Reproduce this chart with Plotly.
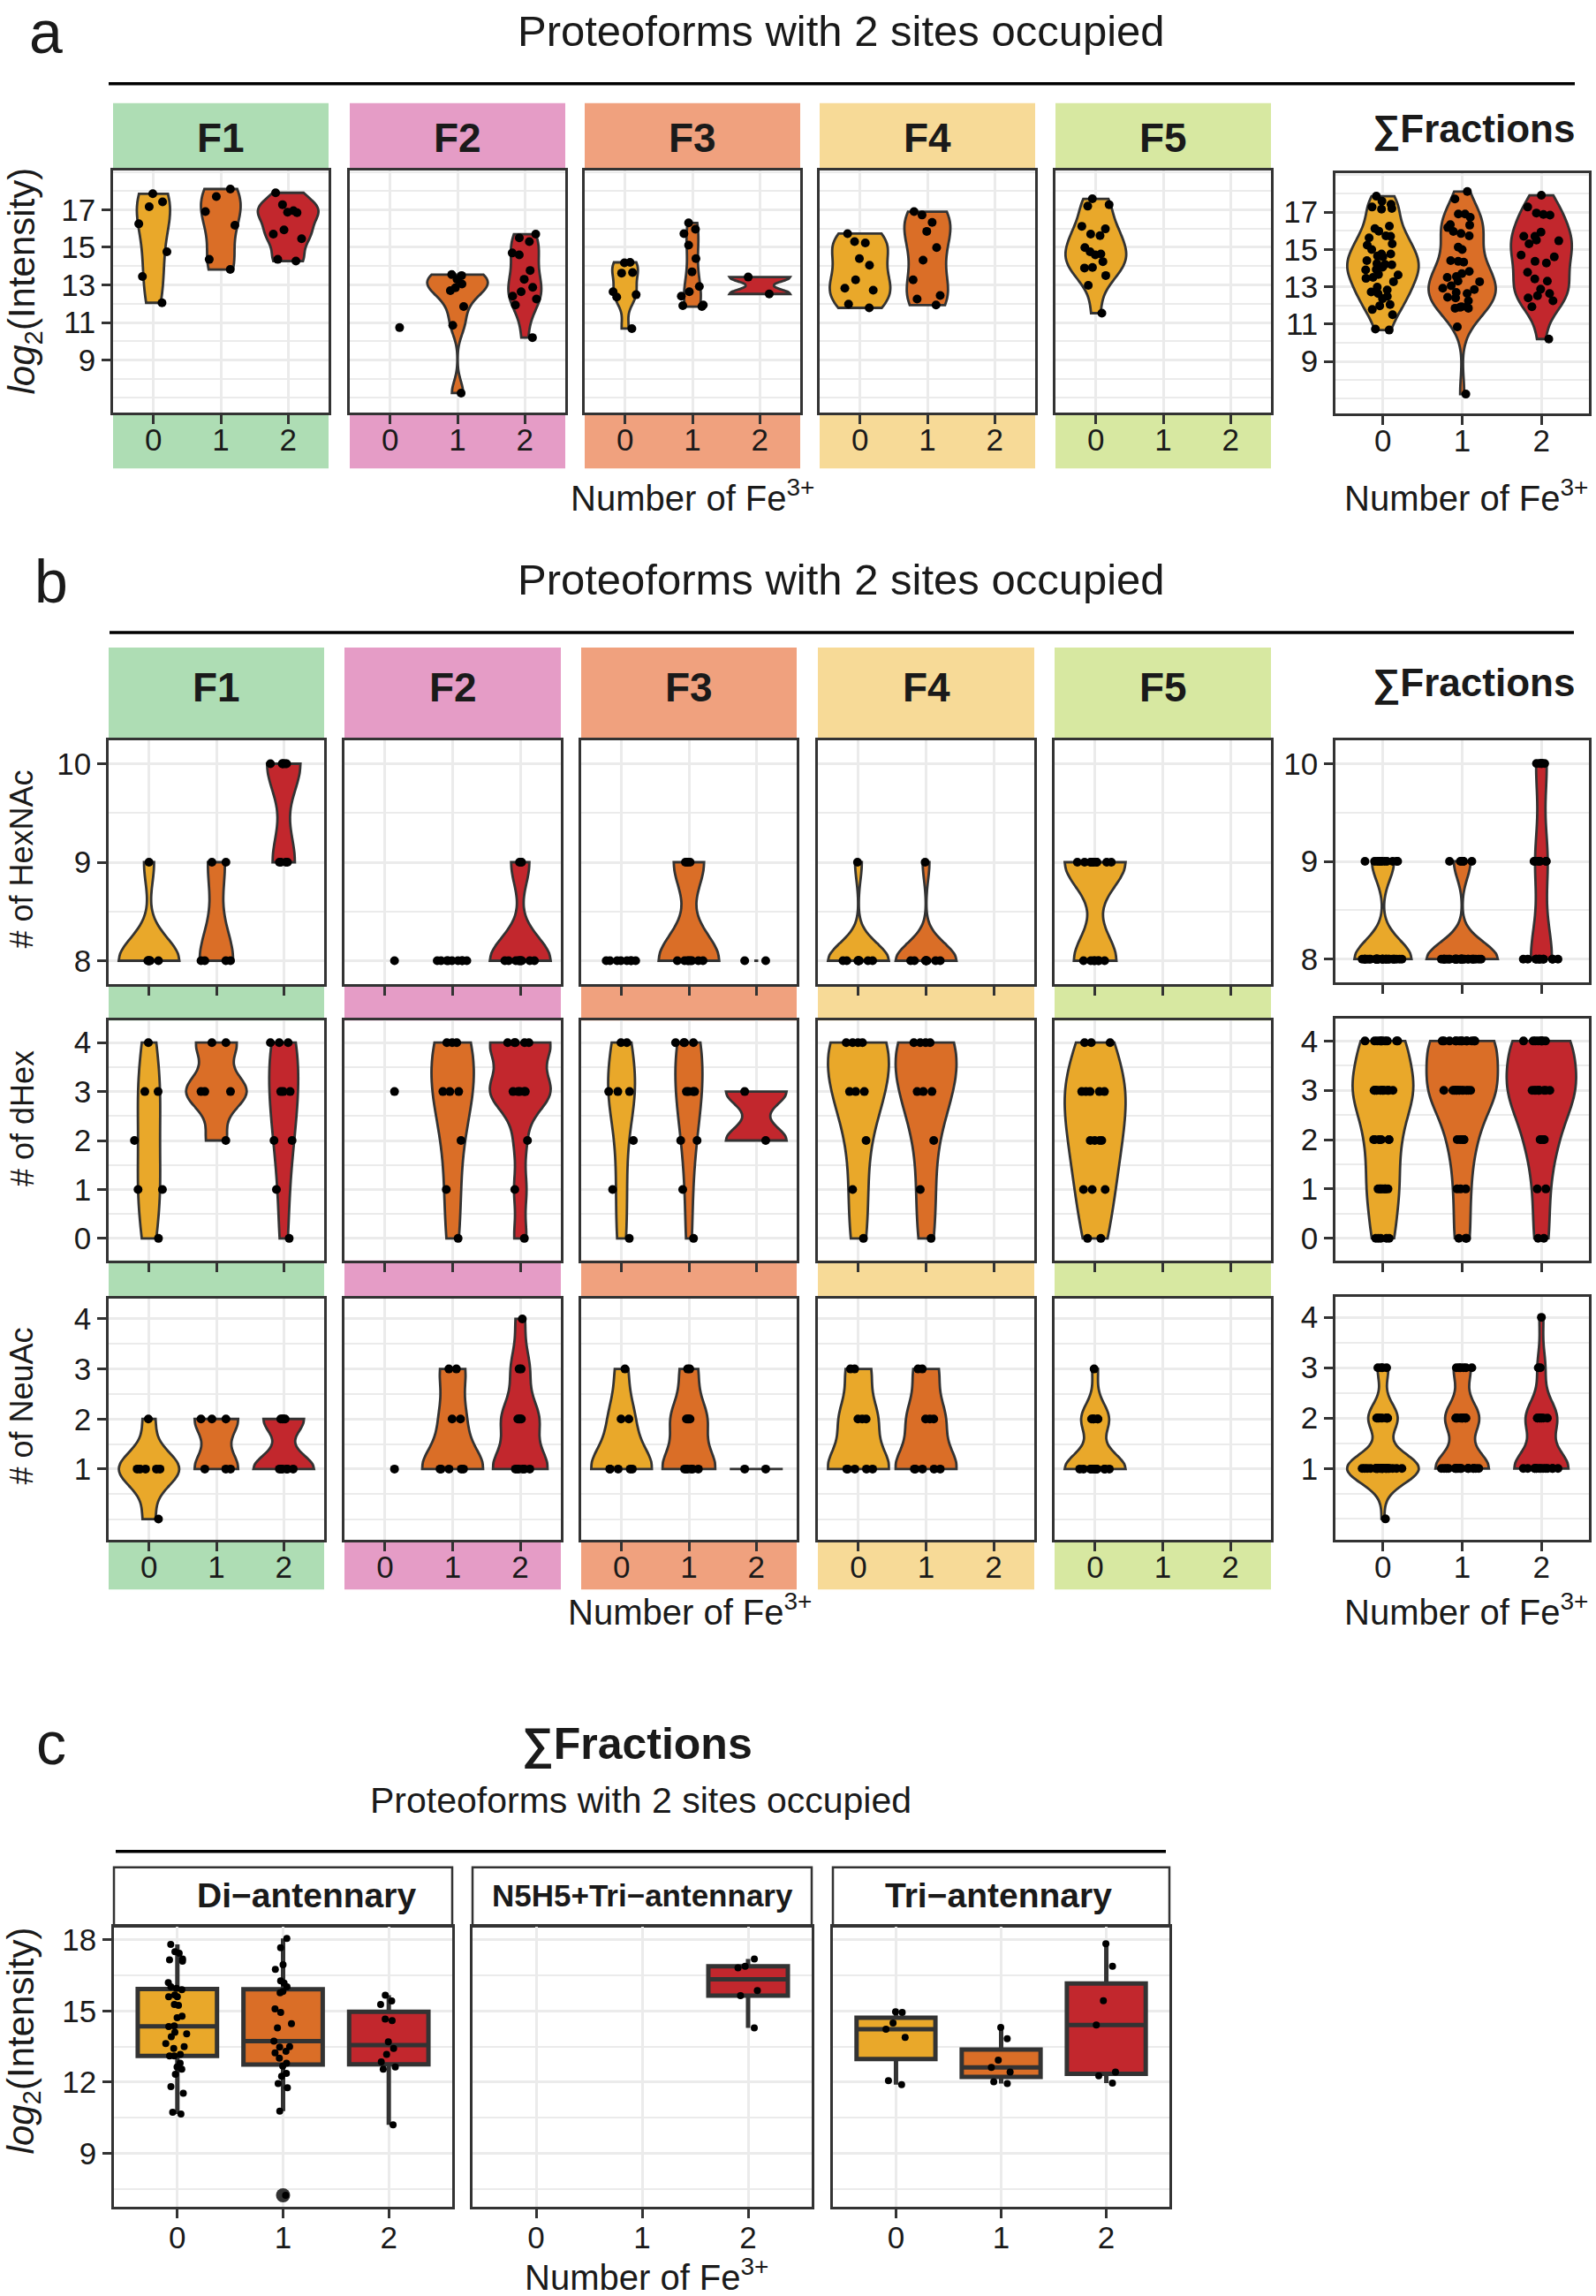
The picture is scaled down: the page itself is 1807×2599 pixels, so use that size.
import numpy as np
import plotly.graph_objects as go

W, H = 1807, 2599
FONT = "Liberation Sans, Arial, sans-serif"
INK = "#333333"
GRID = "#EBEBEB"
TXT = "#1A1A1A"

# ---------------- categories / labels ----------------
FE_LEVELS = [0, 1, 2]
FE_TICKTEXT = ["0", "1", "2"]
FRACTIONS = ["F1", "F2", "F3", "F4", "F5"]
STRIP_COLORS = ["#AEDDB4", "#E59CC6", "#F0A17E", "#F7DA97", "#D7E8A1"]
FE_COLORS = ["#E9A82A", "#DA6E27", "#C2272D"]
ANTENNARY = ["Di\u2212antennary", "N5H5+Tri\u2212antennary", "Tri\u2212antennary"]

INT_TICKS = [9, 11, 13, 15, 17]
INT_MINOR = [7, 8, 10, 12, 14, 16, 18, 19]
HEX_TICKS = [8, 9, 10]
HEX_MINOR = [8.5, 9.5]
DHEX_TICKS = [0, 1, 2, 3, 4]
DHEX_MINOR = [0.5, 1.5, 2.5, 3.5]
NEU_TICKS = [1, 2, 3, 4]
NEU_MINOR = [0, 0.5, 1.5, 2.5, 3.5]
C_TICKS = [9, 12, 15, 18]
C_MINOR = [7.5, 10.5, 13.5, 16.5]

# ---------------- panel a : log2(Intensity) ----------------
INT_F1_FE0 = [17.85, 17.42, 17.16, 16.25, 14.76, 13.45, 12.05]
INT_F1_FE1 = [18.10, 17.70, 16.90, 16.17, 14.36, 13.82]
INT_F1_FE2 = [17.90, 17.27, 16.95, 16.87, 16.84, 15.93, 15.70, 15.46, 14.36, 14.27]
INT_F2_FE0 = [10.73]
INT_F2_FE1 = [13.55, 13.50, 13.30, 13.05, 12.85, 12.70, 11.85, 10.85, 7.25]
INT_F2_FE2 = [15.70, 15.50, 15.30, 14.70, 14.60, 13.77, 13.30, 12.87, 12.64, 12.40, 12.25, 11.93, 10.20]
INT_F3_FE0 = [14.20, 14.18, 13.66, 13.63, 12.64, 12.48, 12.36, 10.68]
INT_F3_FE1 = [16.30, 15.96, 15.73, 15.12, 14.40, 13.70, 12.92, 12.64, 12.40, 11.93, 11.90, 11.85]
INT_F3_FE2 = [13.42, 12.52]
INT_F4_FE0 = [15.73, 15.30, 15.23, 14.40, 14.05, 13.27, 12.83, 12.72, 11.98, 11.78]
INT_F4_FE1 = [16.90, 16.72, 16.33, 15.85, 14.99, 14.32, 13.27, 12.44, 12.25, 11.93]
INT_F5_FE0 = [17.58, 17.27, 17.19, 16.12, 15.98, 15.70, 15.62, 14.99, 14.76, 14.65, 14.60,
              14.24, 13.93, 13.90, 13.50, 12.98, 11.50]

# ---------------- panel b : # of HexNAc ----------------
HEX_F1_FE0 = [9, 8, 8, 8, 8, 8, 8]
HEX_F1_FE1 = [9, 9, 8, 8, 8, 8]
HEX_F1_FE2 = [10, 10, 10, 10, 10, 10, 9, 9, 9, 9]
HEX_F2_FE0 = [8]
HEX_F2_FE1 = [8, 8, 8, 8, 8, 8, 8, 8, 8]
HEX_F2_FE2 = [9, 9, 9, 8, 8, 8, 8, 8, 8, 8, 8, 8, 8]
HEX_F3_FE0 = [8, 8, 8, 8, 8, 8, 8, 8]
HEX_F3_FE1 = [9, 9, 9, 9, 8, 8, 8, 8, 8, 8, 8, 8]
HEX_F3_FE2 = [8, 8]
HEX_F4_FE0 = [9, 8, 8, 8, 8, 8, 8, 8, 8, 8]
HEX_F4_FE1 = [9, 8, 8, 8, 8, 8, 8, 8, 8, 8]
HEX_F5_FE0 = [9, 9, 9, 9, 9, 9, 9, 9, 9, 9, 8, 8, 8, 8, 8, 8, 8]

# ---------------- panel b : # of dHex ----------------
DHEX_F1_FE0 = [4, 3, 3, 2, 1, 1, 0]
DHEX_F1_FE1 = [4, 4, 3, 3, 3, 2]
DHEX_F1_FE2 = [4, 4, 4, 3, 3, 3, 2, 2, 1, 0]
DHEX_F2_FE0 = [3]
DHEX_F2_FE1 = [4, 4, 4, 3, 3, 3, 2, 1, 0]
DHEX_F2_FE2 = [4, 4, 4, 4, 4, 3, 3, 3, 3, 3, 2, 1, 0]
DHEX_F3_FE0 = [4, 4, 3, 3, 3, 2, 1, 0]
DHEX_F3_FE1 = [4, 4, 4, 4, 3, 3, 3, 3, 2, 2, 1, 0]
DHEX_F3_FE2 = [3, 2]
DHEX_F4_FE0 = [4, 4, 4, 4, 3, 3, 3, 2, 1, 0]
DHEX_F4_FE1 = [4, 4, 4, 4, 3, 3, 3, 2, 1, 0]
DHEX_F5_FE0 = [4, 4, 4, 3, 3, 3, 3, 3, 2, 2, 2, 2, 1, 1, 1, 0, 0]

# ---------------- panel b : # of NeuAc ----------------
NEU_F1_FE0 = [2, 1, 1, 1, 1, 1, 0]
NEU_F1_FE1 = [2, 2, 2, 1, 1, 1]
NEU_F1_FE2 = [2, 2, 2, 2, 1, 1, 1, 1, 1, 1]
NEU_F2_FE0 = [1]
NEU_F2_FE1 = [3, 3, 2, 2, 1, 1, 1, 1, 1]
NEU_F2_FE2 = [4, 3, 3, 2, 2, 2, 2, 1, 1, 1, 1, 1, 1]
NEU_F3_FE0 = [3, 2, 2, 1, 1, 1, 1, 1]
NEU_F3_FE1 = [3, 3, 2, 2, 2, 2, 1, 1, 1, 1, 1, 1]
NEU_F3_FE2 = [1, 1]
NEU_F4_FE0 = [3, 3, 2, 2, 2, 1, 1, 1, 1, 1]
NEU_F4_FE1 = [3, 3, 2, 2, 2, 1, 1, 1, 1, 1]
NEU_F5_FE0 = [3, 2, 2, 2, 2, 2, 1, 1, 1, 1, 1, 1, 1, 1, 1, 1, 1]

# ---------------- panel c : log2(Intensity) by antennarity ----------------
C_DI_FE0 = [17.81, 17.50, 17.44, 17.20, 17.16, 17.10, 16.20, 16.02, 15.96, 15.90, 15.68, 15.60,
            15.60, 15.28, 15.24, 14.78, 14.72, 14.37, 14.35, 14.10, 14.04, 13.92, 13.63, 13.50,
            13.42, 13.17, 13.11, 13.11, 12.80, 12.64, 12.55, 12.33, 11.81, 11.53, 10.73, 10.66]
C_DI_FE1 = [18.06, 17.67, 16.95, 16.76, 16.27, 16.18, 16.02, 15.83, 15.77, 15.09, 14.94, 14.47,
            14.29, 13.73, 13.50, 13.48, 13.30, 13.24, 13.01, 12.80, 12.68, 12.37, 12.25, 11.94,
            11.77, 10.78, 7.23]
C_DI_FE2 = [15.67, 15.43, 15.28, 14.66, 14.60, 13.70, 13.42, 13.17, 12.86, 12.64, 12.55, 10.20]
C_N5_FE2 = [17.20, 16.89, 16.82, 15.86, 15.65, 14.29]
C_TRI_FE0 = [14.97, 14.94, 14.50, 14.23, 13.89, 12.06, 11.90]
C_TRI_FE1 = [14.31, 13.83, 12.93, 12.62, 12.43, 12.02, 11.94]
C_TRI_FE2 = [17.84, 16.89, 15.44, 14.41, 12.43, 12.27, 11.96]

INT = {"F1": [INT_F1_FE0, INT_F1_FE1, INT_F1_FE2], "F2": [INT_F2_FE0, INT_F2_FE1, INT_F2_FE2],
       "F3": [INT_F3_FE0, INT_F3_FE1, INT_F3_FE2], "F4": [INT_F4_FE0, INT_F4_FE1, []],
       "F5": [INT_F5_FE0, [], []]}
HEX = {"F1": [HEX_F1_FE0, HEX_F1_FE1, HEX_F1_FE2], "F2": [HEX_F2_FE0, HEX_F2_FE1, HEX_F2_FE2],
       "F3": [HEX_F3_FE0, HEX_F3_FE1, HEX_F3_FE2], "F4": [HEX_F4_FE0, HEX_F4_FE1, []],
       "F5": [HEX_F5_FE0, [], []]}
DHEX = {"F1": [DHEX_F1_FE0, DHEX_F1_FE1, DHEX_F1_FE2], "F2": [DHEX_F2_FE0, DHEX_F2_FE1, DHEX_F2_FE2],
        "F3": [DHEX_F3_FE0, DHEX_F3_FE1, DHEX_F3_FE2], "F4": [DHEX_F4_FE0, DHEX_F4_FE1, []],
        "F5": [DHEX_F5_FE0, [], []]}
NEU = {"F1": [NEU_F1_FE0, NEU_F1_FE1, NEU_F1_FE2], "F2": [NEU_F2_FE0, NEU_F2_FE1, NEU_F2_FE2],
       "F3": [NEU_F3_FE0, NEU_F3_FE1, NEU_F3_FE2], "F4": [NEU_F4_FE0, NEU_F4_FE1, []],
       "F5": [NEU_F5_FE0, [], []]}
ANT = [[C_DI_FE0, C_DI_FE1, C_DI_FE2], [[], [], C_N5_FE2], [C_TRI_FE0, C_TRI_FE1, C_TRI_FE2]]


def pooled(d):
    return [sum((list(d[f][k]) for f in FRACTIONS), []) for k in range(3)]


# ---------------- helpers ----------------
def nrd0(v):
    v = np.asarray(v, float)
    hi = np.std(v, ddof=1)
    q75, q25 = np.percentile(v, [75, 25])
    lo = min(hi, (q75 - q25) / 1.34)
    if lo == 0:
        lo = hi if hi > 0 else (abs(v[0]) if v[0] != 0 else 1.0)
    return 0.9 * lo * len(v) ** -0.2


def kde_max(v, bw):
    v = np.asarray(v, float)
    t = np.linspace(v.min(), v.max(), 512)
    d = np.exp(-0.5 * ((t[:, None] - v[None, :]) / bw) ** 2).sum(1) / (len(v) * bw * np.sqrt(2 * np.pi))
    return d.max()


def px_x(p):
    return p / W


def px_y(p):
    return 1 - p / H


TICK_SIZE = 35
layout = dict(width=W, height=H, margin=dict(l=0, r=0, t=0, b=0), paper_bgcolor="white",
              plot_bgcolor="white", showlegend=False, violinmode="overlay", violingap=0.1,
              violingroupgap=0, boxmode="overlay", boxgap=0.25, boxgroupgap=0,
              font=dict(family=FONT, color=TXT), shapes=[], annotations=[])
traces = []
_count = [0]
X_STANDOFF = {}


def new_panel(xs, ys, yrange, ymajor, yminor, ylabels, xlabels, standoff=-12):
    _count[0] += 1
    k = _count[0]
    s = "" if k == 1 else str(k)
    X_STANDOFF["xaxis" + s] = standoff
    layout["xaxis" + s] = dict(
        domain=[px_x(xs[0]), px_x(xs[1])], anchor="y" + s, range=[-0.6, 2.6], tickmode="array",
        tickvals=FE_LEVELS, ticktext=FE_TICKTEXT, showticklabels=xlabels, ticks="outside",
        ticklen=10, tickwidth=2.5, tickcolor=INK, showgrid=True, gridcolor=GRID, gridwidth=3,
        showline=True, linecolor=INK, linewidth=2.5, mirror=True, zeroline=False,
        tickfont=dict(family=FONT, size=TICK_SIZE, color=TXT))
    layout["yaxis" + s] = dict(
        domain=[px_y(ys[1]), px_y(ys[0])], anchor="x" + s, range=yrange, tickmode="array",
        tickvals=ymajor, showticklabels=ylabels, ticks="outside" if ylabels else "",
        ticklen=10, tickwidth=2.5, tickcolor=INK, showgrid=True, gridcolor=GRID, gridwidth=3,
        showline=True, linecolor=INK, linewidth=2.5, mirror=True, zeroline=False,
        tickfont=dict(family=FONT, size=TICK_SIZE, color=TXT),
        minor=dict(tickmode="array", tickvals=yminor, showgrid=True, gridcolor=GRID,
                   gridwidth=1.5, ticks=""))
    return "x" + s, "y" + s


def ann(x, y, text, size, bold=False, angle=0, color=TXT):
    t = "<b>%s</b>" % text if bold else text
    layout["annotations"].append(dict(x=px_x(x), y=px_y(y), xref="paper", yref="paper", text=t,
                                      showarrow=False, font=dict(family=FONT, size=size, color=color),
                                      xanchor="center", yanchor="middle", textangle=angle))


def rect(xs, ys, fill, line_color=None, lw=0):
    layout["shapes"].append(dict(type="rect", xref="paper", yref="paper", x0=px_x(xs[0]),
                                 x1=px_x(xs[1]), y0=px_y(ys[1]), y1=px_y(ys[0]), fillcolor=fill,
                                 line=dict(color=line_color or fill, width=lw), layer="below"))


def hline(xs, y, lw=3.5):
    layout["shapes"].append(dict(type="line", xref="paper", yref="paper", x0=px_x(xs[0]),
                                 x1=px_x(xs[1]), y0=px_y(y), y1=px_y(y),
                                 line=dict(color="black", width=lw)))


def add_violins(groups, xa, ya, key, msize=10):
    nonconst = [g for g in groups if len(g) >= 2 and max(g) > min(g)]
    pmax = max(kde_max(g, nrd0(g)) for g in nonconst) if nonconst else 1.0
    for fe, vals in zip(FE_LEVELS, groups):
        if not vals:
            continue
        n = len(vals)
        base = dict(x=[fe] * n, y=vals, xaxis=xa, yaxis=ya, fillcolor=FE_COLORS[fe],
                    spanmode="hard", side="both", showlegend=False, hoverinfo="y",
                    box_visible=False, meanline_visible=False)
        pts = dict(points="all", pointpos=0, jitter=0.6,
                   marker=dict(color="black", size=msize, line=dict(width=0)))
        if n >= 2 and max(vals) > min(vals):
            traces.append(go.Violin(**base, **pts, bandwidth=nrd0(vals), scalemode="width",
                                    scalegroup=key, line=dict(color=INK, width=2.8)))
        else:
            if n >= 2:
                bw = nrd0(vals)
                r = (1 / (np.sqrt(2 * np.pi) * bw)) / pmax
                traces.append(go.Violin(**base, points=False, width=0.9 * min(r, 1.0),
                                        scalegroup="%s_c%d" % (key, fe),
                                        line=dict(color=INK, width=2.8)))
            traces.append(go.Violin(**base, **pts, scalegroup="%s_p%d" % (key, fe),
                                    line=dict(color="rgba(0,0,0,0)", width=0)))


def add_boxes(groups, xa, ya):
    for fe, vals in zip(FE_LEVELS, groups):
        if not vals:
            continue
        n = len(vals)
        traces.append(go.Box(x=[fe] * n, y=vals, xaxis=xa, yaxis=ya, fillcolor=FE_COLORS[fe],
                             line=dict(color=INK, width=5), boxpoints="outliers",
                             marker=dict(color=INK, size=16, line=dict(width=0)),
                             quartilemethod="inclusive", whiskerwidth=0, showlegend=False))
        traces.append(go.Box(x=[fe] * n, y=vals, xaxis=xa, yaxis=ya, fillcolor="rgba(0,0,0,0)",
                             line=dict(color="rgba(0,0,0,0)", width=0), boxpoints="all",
                             jitter=0.3, pointpos=0, quartilemethod="inclusive",
                             marker=dict(color="black", size=8, line=dict(width=0)),
                             showlegend=False))


FE_TITLE = "Number of Fe<sup>3+</sup>"
LOG_TITLE = "<i>log</i><sub>2</sub>(Intensity)"
TITLE = "Proteoforms with 2 sites occupied"
SIGMA = "\u2211Fractions"

# ---------------- geometry (pixels) ----------------
A_X = [(128, 372), (396, 640), (662, 906), (928, 1172), (1195, 1439)]
A_Y = (189, 464)
A_SX, A_SY = (1512, 1799), (192, 465)
B_X = [(123, 367), (390, 635), (658, 902), (926, 1171), (1194, 1439)]
B_Y = [(835, 1112), (1153, 1425), (1468, 1742)]
B_SY = [(835, 1110), (1151, 1425), (1466, 1742)]
B_BANDS = [(1112, 1153), (1425, 1468), (1742, 1798)]
C_X = [(129, 512), (535, 919), (943, 1324)]
C_Y = (2180, 2498)

# ================= panel a =================
ann(52, 32, "a", 68)
ann(953, 31, TITLE, 49)
hline((123, 1783), 91)
for i, f in enumerate(FRACTIONS):
    xa, ya = new_panel(A_X[i], A_Y, [6.2, 19.1], INT_TICKS, INT_MINOR, i == 0, True)
    add_violins(INT[f], xa, ya, "a%d" % i)
    rect(A_X[i], (113, 189), STRIP_COLORS[i])
    rect(A_X[i], (464, 527), STRIP_COLORS[i])
    ann((A_X[i][0] + A_X[i][1]) / 2, 152, f, 46, bold=True)
xa, ya = new_panel(A_SX, A_SY, [6.2, 19.1], INT_TICKS, INT_MINOR, True, True)
add_violins(pooled(INT), xa, ya, "aS")
ann(1668, 142, SIGMA, 44, bold=True)
ann(784, 558, FE_TITLE, 40)
ann(1660, 558, FE_TITLE, 40)
ann(28, 315, LOG_TITLE, 42, angle=-90)

# ================= panel b =================
ann(58, 655, "b", 68)
ann(953, 653, TITLE, 49)
hline((124, 1782), 713)
ROWS = [(HEX, [7.76, 10.24], HEX_TICKS, HEX_MINOR, "# of HexNAc", 970),
        (DHEX, [-0.45, 4.45], DHEX_TICKS, DHEX_MINOR, "# of dHex", 1264),
        (NEU, [-0.42, 4.41], NEU_TICKS, NEU_MINOR, "# of NeuAc", 1590)]
for r, (data, yr, yt, ym, ytitle, ty) in enumerate(ROWS):
    last = r == len(ROWS) - 1
    for i, f in enumerate(FRACTIONS):
        xa, ya = new_panel(B_X[i], B_Y[r], yr, yt, ym, i == 0, last)
        add_violins(data[f], xa, ya, "b%d_%d" % (r, i))
        rect(B_X[i], B_BANDS[r], STRIP_COLORS[i])
    xa, ya = new_panel(A_SX, B_SY[r], yr, yt, ym, True, last)
    add_violins(pooled(data), xa, ya, "b%d_S" % r)
    ann(25, ty, ytitle, 36, angle=-90)
for i, f in enumerate(FRACTIONS):
    rect(B_X[i], (730, 835), STRIP_COLORS[i])
    ann((B_X[i][0] + B_X[i][1]) / 2, 775, f, 46, bold=True)
ann(1668, 770, SIGMA, 44, bold=True)
ann(781, 1821, FE_TITLE, 40)
ann(1660, 1821, FE_TITLE, 40)

# ================= panel c =================
ann(58, 1972, "c", 68)
ann(721, 1974, SIGMA, 50, bold=True)
ann(725, 2037, TITLE, 41)
hline((131, 1320), 2095)
C_LABEL_X = [347, 727, 1130]
C_LABEL_SIZE = [39, 35, 39]
for j, name in enumerate(ANTENNARY):
    xa, ya = new_panel(C_X[j], C_Y, [6.74, 18.57], C_TICKS, C_MINOR, j == 0, True, standoff=-8)
    add_boxes(ANT[j], xa, ya)
    rect(C_X[j], (2113, 2180), "white", INK, 2.5)
    ann(C_LABEL_X[j], 2145, name, C_LABEL_SIZE[j], bold=True)
ann(732, 2575, FE_TITLE, 40)
ann(26, 2310, LOG_TITLE, 42, angle=-90)

fig = go.Figure(data=traces, layout=layout)
for name, so in X_STANDOFF.items():
    try:
        fig.layout[name].ticklabelstandoff = so
    except (ValueError, AttributeError):
        pass
fig.write_html("out.html", config={"displayModeBar": False},
               post_script="document.body.style.margin='0';document.body.style.padding='0';")
